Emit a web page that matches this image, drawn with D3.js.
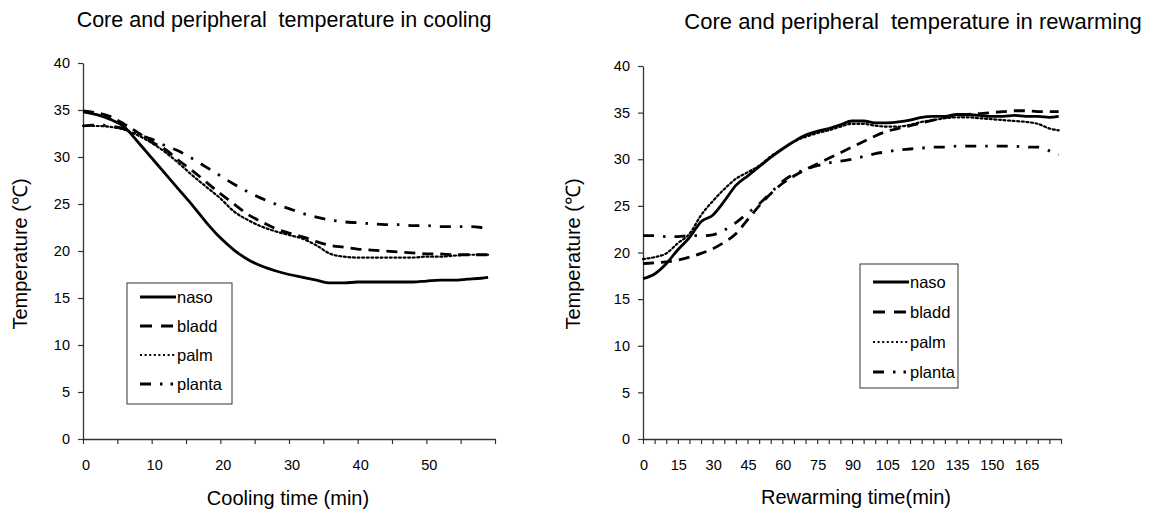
<!DOCTYPE html>
<html>
<head>
<meta charset="utf-8">
<script src="https://cdn.jsdelivr.net/npm/d3@7"></script>
<style>
  body { margin: 0; background: #fff; }
  svg { display: block; font-family: "Liberation Sans", Arial, sans-serif; }
  .title { white-space: pre; }
</style>
</head>
<body>
<div id="chart"></div>
<script>
const W = 1152
const H = 511

// cooling panel data (minutes, degrees C)
const coolTime = [0, 2, 4, 6, 8, 10, 12, 14, 16, 18, 20, 22, 24, 26, 28, 30, 32, 34, 36, 38, 40, 42, 44, 46, 48, 50, 52, 54, 56, 58, 59]
const coolNaso = [34.8, 34.5, 34.0, 33.2, 31.6, 29.9, 28.2, 26.5, 24.8, 23.0, 21.4, 20.1, 19.1, 18.4, 17.9, 17.5, 17.2, 16.9, 16.6, 16.6, 16.7, 16.7, 16.7, 16.7, 16.7, 16.8, 16.9, 16.9, 17.0, 17.1, 17.2]
const coolBladd = [34.9, 34.7, 34.3, 33.5, 32.6, 31.6, 30.8, 29.6, 28.5, 27.3, 26.1, 25.0, 23.9, 23.1, 22.4, 21.9, 21.5, 21.0, 20.6, 20.4, 20.2, 20.1, 20.0, 19.9, 19.8, 19.7, 19.7, 19.6, 19.6, 19.6, 19.6]
const coolPalm = [33.3, 33.3, 33.2, 32.9, 32.3, 31.5, 30.5, 29.3, 28.0, 26.8, 25.6, 24.2, 23.3, 22.6, 22.1, 21.7, 21.3, 20.6, 19.7, 19.4, 19.3, 19.3, 19.3, 19.3, 19.3, 19.4, 19.4, 19.5, 19.6, 19.6, 19.6]
const coolPlanta = [33.3, 33.4, 33.3, 33.0, 32.4, 31.9, 31.2, 30.6, 29.8, 28.9, 28.0, 27.1, 26.3, 25.6, 25.0, 24.5, 24.0, 23.6, 23.3, 23.1, 23.0, 22.9, 22.8, 22.8, 22.7, 22.7, 22.6, 22.6, 22.6, 22.5, 22.4]

// rewarming panel data
const warmTime = [0, 5, 10, 15, 20, 25, 30, 35, 40, 45, 50, 55, 60, 65, 70, 75, 80, 85, 90, 95, 100, 105, 110, 115, 120, 125, 130, 135, 140, 145, 150, 155, 160, 165, 170, 175, 179]
const warmNaso = [17.2, 17.7, 18.8, 20.3, 21.6, 23.3, 24.0, 25.5, 27.2, 28.2, 29.2, 30.2, 31.1, 31.9, 32.6, 33.0, 33.3, 33.7, 34.1, 34.1, 33.9, 33.9, 34.0, 34.2, 34.5, 34.6, 34.6, 34.8, 34.8, 34.7, 34.6, 34.6, 34.7, 34.6, 34.6, 34.5, 34.6]
const warmBladd = [18.8, 18.9, 19.0, 19.2, 19.5, 19.9, 20.4, 21.1, 22.0, 23.5, 25.0, 26.3, 27.4, 28.2, 28.9, 29.5, 30.1, 30.7, 31.3, 31.9, 32.5, 33.0, 33.3, 33.6, 33.9, 34.2, 34.5, 34.7, 34.8, 34.9, 35.0, 35.1, 35.2, 35.2, 35.1, 35.1, 35.1]
const warmPalm = [19.3, 19.5, 19.9, 21.0, 22.0, 24.0, 25.5, 26.8, 27.9, 28.6, 29.3, 30.3, 31.1, 31.9, 32.4, 32.8, 33.1, 33.5, 33.8, 33.8, 33.6, 33.5, 33.5, 33.7, 34.0, 34.2, 34.4, 34.5, 34.5, 34.4, 34.3, 34.2, 34.1, 34.0, 33.8, 33.3, 33.1]
const warmPlanta = [21.8, 21.8, 21.7, 21.7, 21.8, 21.8, 21.9, 22.4, 23.2, 24.2, 25.2, 26.4, 27.6, 28.4, 28.9, 29.3, 29.6, 29.8, 30.0, 30.3, 30.6, 30.8, 31.0, 31.1, 31.2, 31.3, 31.3, 31.4, 31.4, 31.4, 31.4, 31.4, 31.4, 31.3, 31.3, 30.9, 30.5]

const seriesNames = ['naso', 'bladd', 'palm', 'planta']
const yTicks = [0, 5, 10, 15, 20, 25, 30, 35, 40]
const coolLabels = [0, 10, 20, 30, 40, 50]
const warmLabels = [0, 15, 30, 45, 60, 75, 90, 105, 120, 135, 150, 165]

const dashes = { naso: null, bladd: '11,7', palm: '2,2.6', planta: '11,9,2.5,9' }
const legendDashes = { naso: null, bladd: '12,9', palm: '2,2.6', planta: '11,9,2.5,8,2.5,9' }
const widths = { naso: 2.8, bladd: 2.8, palm: 2.2, planta: 2.8 }

const svg = d3.select('#chart').append('svg')
    .attr('width', W)
    .attr('height', H)

function panel(cfg) {
    const x = d3.scaleLinear().domain(cfg.xDomain).range(cfg.xRange)
    const y = d3.scaleLinear().domain([0, 40]).range(cfg.yRange)
    const g = svg.append('g')

    // y axis
    const yAxis = g.append('g')
        .attr('transform', `translate(${cfg.xRange[0]},0)`)
        .call(d3.axisLeft(y).tickValues(yTicks).tickSize(5).tickPadding(8).tickSizeOuter(0))
    yAxis.select('.domain').attr('stroke', '#333').attr('stroke-width', 1.3)
    yAxis.selectAll('line').attr('stroke', '#333').attr('stroke-width', 1.2)
    yAxis.selectAll('text').attr('font-size', 14.5).attr('fill', '#000')
        .attr('font-family', '"Liberation Sans", Arial, sans-serif')

    // x axis: tick marks every 5 min, labels on a subset
    const xAxis = g.append('g')
        .attr('transform', `translate(0,${cfg.yRange[0]})`)
        .call(d3.axisBottom(x).tickValues(d3.range(cfg.xDomain[0], cfg.xDomain[1] + 1, 5))
            .tickSize(5).tickSizeOuter(0).tickFormat(''))
    xAxis.select('.domain').attr('stroke', '#333').attr('stroke-width', 1.3)
    xAxis.selectAll('line').attr('stroke', '#333').attr('stroke-width', 1.2)

    g.append('g').selectAll('text')
        .data(cfg.labels)
        .enter()
        .append('text')
        .attr('x', d => x(d) + cfg.labelShift)
        .attr('y', cfg.yRange[0] + 31)
        .attr('text-anchor', 'middle')
        .attr('font-size', 14.5)
        .text(d => d)

    // lines
    const line = d3.line()
        .x((d, i) => x(cfg.time[i]))
        .y(d => y(d))
        .curve(d3.curveMonotoneX)

    seriesNames.forEach(name => {
        g.append('path')
            .datum(cfg.values[name])
            .attr('d', line)
            .attr('fill', 'none')
            .attr('stroke', '#000')
            .attr('stroke-width', widths[name])
            .attr('stroke-dasharray', dashes[name])
            .attr('stroke-linecap', name === 'palm' ? 'round' : 'butt')
    })

    // titles
    g.append('text')
        .attr('class', 'title')
        .attr('x', cfg.titleX)
        .attr('y', cfg.titleY)
        .attr('text-anchor', 'middle')
        .attr('font-size', cfg.titleSize)
        .text(cfg.title)

    g.append('text')
        .attr('transform', `translate(${cfg.yTitleX},${cfg.yTitleY}) rotate(-90)`)
        .attr('text-anchor', 'middle')
        .attr('font-size', 20)
        .text('Temperature (\u2103)')

    g.append('text')
        .attr('x', cfg.xTitleX)
        .attr('y', cfg.xTitleY)
        .attr('text-anchor', 'middle')
        .attr('font-size', 20)
        .text(cfg.xTitle)

    // legend
    const lg = g.append('g').attr('transform', `translate(${cfg.legend[0]},${cfg.legend[1]})`)
    lg.append('rect')
        .attr('width', cfg.legend[2])
        .attr('height', cfg.legend[3])
        .attr('fill', '#fff')
        .attr('stroke', '#333')
        .attr('stroke-width', 1)
    seriesNames.forEach((name, i) => {
        const yy = cfg.legendTop + i * cfg.legendStep
        lg.append('line')
            .attr('x1', 13).attr('x2', 49)
            .attr('y1', yy).attr('y2', yy)
            .attr('stroke', '#000')
            .attr('stroke-width', widths[name])
            .attr('stroke-dasharray', legendDashes[name])
        lg.append('text')
            .attr('x', 50)
            .attr('y', yy + 6)
            .attr('font-size', 16.5)
            .text(name)
    })
}

panel({
    xDomain: [0, 60], xRange: [83, 495], yRange: [439, 63],
    time: coolTime,
    values: { naso: coolNaso, bladd: coolBladd, palm: coolPalm, planta: coolPlanta },
    labels: coolLabels, labelShift: 3,
    title: 'Core and peripheral  temperature in cooling', titleX: 284, titleY: 27, titleSize: 21.5,
    yTitleX: 27, yTitleY: 254,
    xTitle: 'Cooling time (min)', xTitleX: 288, xTitleY: 505,
    legend: [127, 283, 105, 121], legendTop: 14, legendStep: 29
})

panel({
    xDomain: [0, 180], xRange: [643, 1061], yRange: [439, 66],
    time: warmTime,
    values: { naso: warmNaso, bladd: warmBladd, palm: warmPalm, planta: warmPlanta },
    labels: warmLabels, labelShift: 1,
    title: 'Core and peripheral  temperature in rewarming', titleX: 913, titleY: 29, titleSize: 22,
    yTitleX: 580, yTitleY: 254,
    xTitle: 'Rewarming time(min)', xTitleX: 856, xTitleY: 504,
    legend: [860, 264, 98, 124], legendTop: 18, legendStep: 30
})
</script>
</body>
</html>
